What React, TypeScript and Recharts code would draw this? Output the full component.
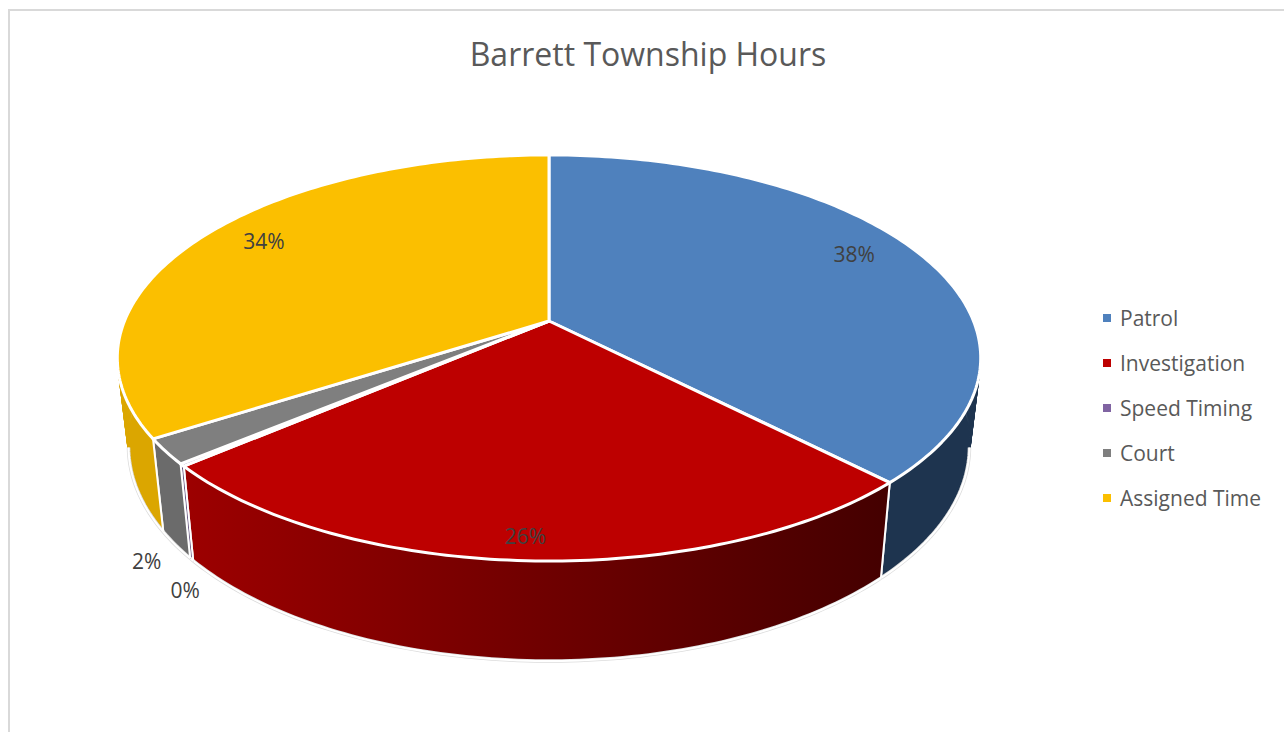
import { PieChart, Pie, Legend } from "recharts";

const categories = ["Patrol", "Investigation", "Speed Timing", "Court", "Assigned Time"];
const hours = [37.7, 26.0, 0.2, 2, 34.1];

const topColors = ["#4f81bd", "#bd0000", "#8064a2", "#7f7f7f", "#fbbf00"];
const wallLeftColors = ["#1e344f", "#9c0000", "#5c4a78", "#6b6b6b", "#dba600"];
const wallRightColors = ["#1e344f", "#450000", "#5c4a78", "#6b6b6b", "#dba600"];

// label placement along the radius, then a nudge in px
const labelRadius = [0.82, 0.915, 1, 1, 0.82];
const labelNudge = [[0, -10], [-3, 0], [3, 125], [-19, 110], [0, -8]];

const tableData = categories.map((name, i) => ({
  name,
  hours: hours[i],
  fill: topColors[i],
}));
const total = hours.reduce((a, b) => a + b, 0);

const FONT = "'Open Sans', sans-serif";
const TEXT = "#595959";

// fake 3d view: the flat disc goes through a small perspective
const SQUASH = 0.4625;
const PERSPECTIVE = 0.182;

type Pt = { x: number; y: number; front?: boolean };

const project = (cx: number, cy: number, r: number, deg: number, amount = 1): Pt => {
  const a = (deg * Math.PI) / 180;
  const X = Math.cos(a) * amount;
  const Y = Math.sin(a) * amount;
  const w = 1 + PERSPECTIVE * Y;
  return { x: cx + (r * X) / w, y: cy - (r * SQUASH * Y) / w, front: Y < -PERSPECTIVE };
};

// lower rim of the pie, taken from the upper rim
const drop = (cx: number, cy: number, p: Pt): Pt => ({
  x: cx + 0.974 * (p.x - cx),
  y: cy + 1.057 * (p.y - cy) + 86.3,
  front: p.front,
});

const arc = (cx: number, cy: number, r: number, start: number, end: number) => {
  const steps = Math.max(2, Math.ceil(Math.abs(end - start)));
  const pts: Pt[] = [];
  for (let i = 0; i <= steps; i++) {
    pts.push(project(cx, cy, r, start + ((end - start) * i) / steps));
  }
  return pts;
};

const toLine = (pts: Pt[]) =>
  pts.map((p, i) => `${i ? "L" : "M"}${p.x.toFixed(2)},${p.y.toFixed(2)}`).join(" ");

const TopSlice = (props: any) => {
  const { cx, cy, outerRadius, startAngle, endAngle, fill } = props;
  const pts = [{ x: cx, y: cy }, ...arc(cx, cy, outerRadius, startAngle, endAngle)];
  return <path d={toLine(pts) + " Z"} fill={fill} stroke="#ffffff" strokeWidth={3} strokeLinejoin="round" />;
};

const WallSlice = (props: any) => {
  const { cx, cy, outerRadius, startAngle, endAngle, index } = props;
  const upper = arc(cx, cy, outerRadius, startAngle, endAngle);
  const lower = upper.map((p) => drop(cx, cy, p));
  // one quad per step so the straight silhouette at both sides gets filled too
  const quads = upper
    .slice(1)
    .map((p, i) => toLine([upper[i], p, lower[i + 1], lower[i]]) + " Z")
    .join(" ");
  const rim = toLine(lower.filter((p) => p.front));
  const first = toLine([upper[0], lower[0]]);
  const last = toLine([upper[upper.length - 1], lower[lower.length - 1]]);
  return (
    <g>
      <path d={quads} fill={`url(#wall${index})`} stroke={`url(#wall${index})`} strokeWidth={1} />
      <path d={rim} fill="none" stroke="#dcdcdc" strokeWidth={3.5} />
      <path d={`${rim} ${first} ${last}`} fill="none" stroke="#ffffff" strokeWidth={2} />
    </g>
  );
};

const SliceLabel = (props: any) => {
  const { cx, cy, outerRadius, midAngle, index } = props;
  const p = project(cx, cy, outerRadius, midAngle, labelRadius[index]);
  return (
    <text
      x={p.x + labelNudge[index][0]}
      y={p.y + labelNudge[index][1]}
      textAnchor="middle"
      dominantBaseline="central"
      fill="#404040"
      fontFamily={FONT}
      fontSize={21}
    >
      {`${Math.round((hours[index] / total) * 100)}%`}
    </text>
  );
};

const LegendRows = ({ payload }: any) => {
  // the wall pie also lands in the payload, keep each category once and in order
  const rows = categories.map((name) => (payload || []).find((e: any) => e.value === name)).filter(Boolean);
  return (
    <div style={{ fontFamily: FONT, fontSize: 21, color: TEXT }}>
      {rows.map((entry: any) => (
        <div key={entry.value} style={{ height: 45, display: "flex", alignItems: "center", whiteSpace: "nowrap" }}>
          <span style={{ width: 8, height: 8, marginRight: 9, background: entry.color }} />
          {entry.value}
        </div>
      ))}
    </div>
  );
};

export default function App() {
  return (
    <div style={{ position: "fixed", left: 0, top: 0, width: 1284, height: 732, overflow: "hidden", background: "#fff" }}>
      <div
        style={{
          position: "absolute",
          left: 8,
          top: 9,
          width: 1400,
          height: 900,
          borderLeft: "2px solid #d9d9d9",
          borderTop: "2px solid #d9d9d9",
        }}
      />
      <div style={{ position: "absolute", left: 0, top: 0 }}>
        <PieChart width={1284} height={732} margin={{ top: 0, right: 0, bottom: 0, left: 0 }}>
          <defs>
            {categories.map((name, i) => (
              <linearGradient key={name} id={`wall${i}`} gradientUnits="userSpaceOnUse" x1="190" y1="0" x2="880" y2="0">
                <stop offset="0%" stopColor={wallLeftColors[i]} />
                <stop offset="100%" stopColor={wallRightColors[i]} />
              </linearGradient>
            ))}
          </defs>
          <text x={648} y={53} textAnchor="middle" dominantBaseline="central" fill={TEXT} fontFamily={FONT} fontSize={32}>
            Barrett Township Hours
          </text>
          <Pie
            data={tableData}
            dataKey="hours"
            nameKey="name"
            cx={549}
            cy={321}
            outerRadius={424.5}
            startAngle={90}
            endAngle={-270}
            legendType="none"
            shape={WallSlice}
            isAnimationActive={false}
          />
          <Pie
            data={tableData}
            dataKey="hours"
            nameKey="name"
            cx={549}
            cy={321}
            outerRadius={424.5}
            startAngle={90}
            endAngle={-270}
            shape={TopSlice}
            label={SliceLabel}
            labelLine={false}
            isAnimationActive={false}
          />
          <Legend
            layout="vertical"
            align="right"
            verticalAlign="top"
            content={LegendRows}
            wrapperStyle={{ left: 1103, top: 295, width: 181, right: "auto" }}
          />
        </PieChart>
      </div>
    </div>
  );
}
